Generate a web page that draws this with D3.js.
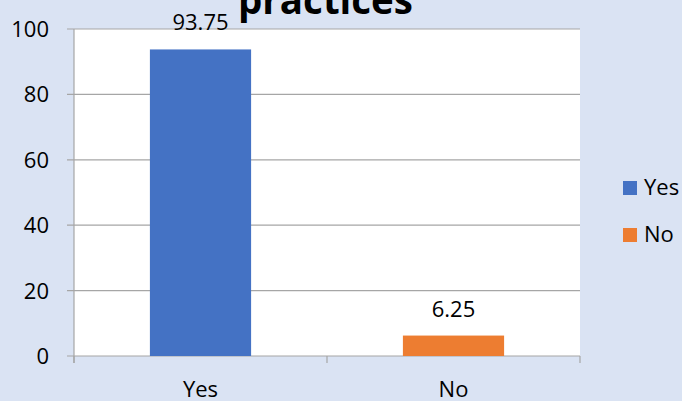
<!DOCTYPE html>
<html>
<head>
<meta charset="utf-8">
<script src="https://cdn.jsdelivr.net/npm/d3@7"></script>
<style>
  html, body { margin: 0; padding: 0; background: #dae3f3; }
  svg { display: block; }
  text { font-family: "Open Sans", sans-serif; fill: #000; }
</style>
</head>
<body>
<svg id="chart" width="682" height="401"></svg>
<script>
const categories = ["Yes", "No"];
const values = [93.75, 6.25];
const valueLabels = ["93.75", "6.25"];
const colors = ["#4472c4", "#ed7d31"];
const yTicks = [0, 20, 40, 60, 80, 100];
const title = "practices";

(function () {
const svg = d3.select("#chart");
const W = 682, H = 401;
svg.append("rect").attr("width", W).attr("height", H).attr("fill", "#dae3f3");

const pLeft = 74, pRight = 580, pTop = 29, pBottom = 356;

const x = d3.scaleBand().domain(categories).range([pLeft, pRight]).paddingInner(0.6).paddingOuter(0.3);
const xCat = d3.scaleBand().domain(categories).range([pLeft, pRight]).padding(0);
const y = d3.scaleLinear().domain([0, 100]).range([pBottom, pTop]);

// plot area
svg.append("rect").attr("x", pLeft).attr("y", pTop).attr("width", pRight - pLeft).attr("height", pBottom - pTop).attr("fill", "#fff");

// gridlines
svg.append("g").selectAll("line").data(yTicks).join("line")
  .attr("x1", pLeft - 7).attr("x2", pRight)
  .attr("y1", d => y(d)).attr("y2", d => y(d))
  .attr("stroke", "#a6a6a6").attr("stroke-width", 1.2);

// y axis line
svg.append("line").attr("x1", pLeft).attr("x2", pLeft).attr("y1", pTop).attr("y2", pBottom + 7)
  .attr("stroke", "#a6a6a6").attr("stroke-width", 1.2);

// x tick marks
const xTickPos = [pLeft, ...categories.slice(1).map(c => xCat(c)), pRight];
svg.append("g").selectAll("line").data(xTickPos).join("line")
  .attr("x1", d => d).attr("x2", d => d).attr("y1", pBottom).attr("y2", pBottom + 7)
  .attr("stroke", "#a6a6a6").attr("stroke-width", 1.2);

// y labels
svg.append("g").selectAll("text").data(yTicks).join("text")
  .attr("x", 49).attr("y", d => y(d)).attr("dy", "0.36em")
  .attr("text-anchor", "end").attr("font-size", 22).text(d => d);

// bars
svg.append("g").selectAll("rect").data(categories).join("rect")
  .attr("x", d => x(d)).attr("width", x.bandwidth())
  .attr("y", (d, i) => y(values[i])).attr("height", (d, i) => y(0) - y(values[i]))
  .attr("fill", (d, i) => colors[i]);

// data labels
svg.append("g").selectAll("text").data(categories).join("text")
  .attr("x", d => x(d) + x.bandwidth() / 2)
  .attr("y", (d, i) => y(values[i]) - 19)
  .attr("text-anchor", "middle").attr("font-size", 22).text((d, i) => valueLabels[i]);

// x labels
svg.append("g").selectAll("text").data(categories).join("text")
  .attr("x", d => xCat(d) + xCat.bandwidth() / 2).attr("y", 397)
  .attr("text-anchor", "middle").attr("font-size", 22).text(d => d);

// title (cut off at top, as in the reference)
const t = svg.append("text").attr("x", 325.5).attr("y", 14).attr("text-anchor", "middle")
  .attr("font-weight", "bold").attr("font-size", 36).text(title);
const tw = t.node().getComputedTextLength();
t.attr("font-size", 36 * 175 / tw);

// legend
const lg = svg.append("g").selectAll("g").data(categories).join("g")
  .attr("transform", (d, i) => `translate(623, ${181 + i * 47})`);
lg.append("rect").attr("width", 14).attr("height", 14).attr("fill", (d, i) => colors[i]);
lg.append("text").attr("x", 21).attr("y", 14).attr("font-size", 22).text(d => d);
})();
</script>
</body>
</html>
